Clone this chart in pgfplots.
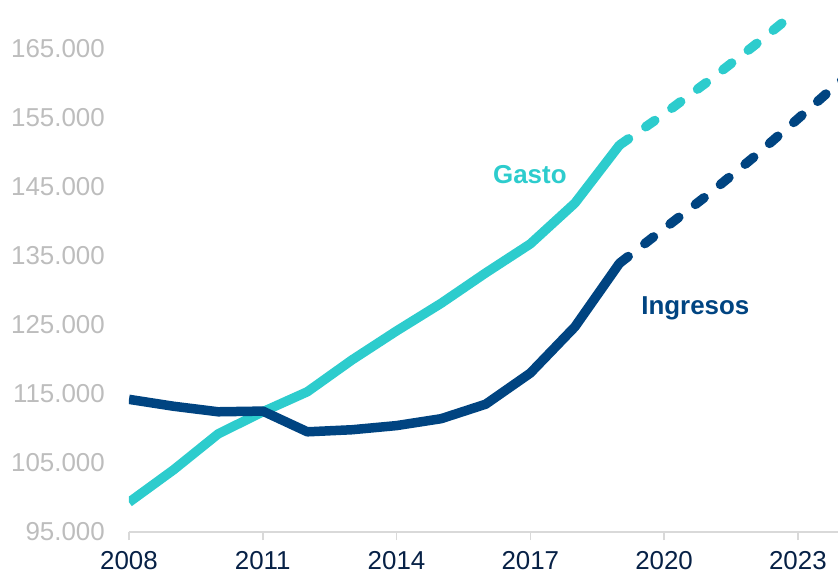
\documentclass[border=0pt]{standalone}
\usepackage{pgfplots}
\pgfplotsset{compat=1.18}
\usepackage{fontspec}
\setmainfont{Liberation Sans}
\definecolor{navy}{HTML}{004481}
\definecolor{aqua}{HTML}{2DCCCD}
\definecolor{dark}{HTML}{072146}
\definecolor{lgray}{HTML}{BDBDBD}
\definecolor{axgray}{HTML}{D9D9D9}
\begin{document}
\fontsize{26}{30}\selectfont
\begin{tikzpicture}
\useasboundingbox (-129bp,-44bp) rectangle (709bp,532bp);
\begin{axis}[
  at={(0,0)}, anchor=origin,
  scale only axis, width=709bp, height=532bp,
  xmin=2008, xmax=2023.9, ymin=95000, ymax=172000,
  axis x line=bottom, axis y line=left,
  x axis line style={-, draw=axgray, line width=1.5bp},
  y axis line style={draw=none},
  xtick={2008,2011,2014,2017,2020,2023},
  ytick={95000,105000,115000,125000,135000,145000,155000,165000},
  scaled x ticks=false, scaled y ticks=false,
  tick align=outside, major tick length=8bp,
  xtick style={draw=axgray, line width=1.5bp},
  ytick style={draw=none},
  /pgf/number format/assume math mode=true,
  xticklabel={\pgfmathprintnumber[1000 sep={}]{\tick}},
  yticklabel={\pgfmathprintnumber[fixed,1000 sep={.}]{\tick}},
  xticklabel style={font=\fontsize{26}{30}\selectfont, text=dark, anchor=north, inner sep=0pt, yshift=-11bp},
  yticklabel style={font=\fontsize{26}{30}\selectfont, text=lgray, anchor=east, inner sep=0pt, xshift=-16bp},
  clip=true,
]
\addplot[aqua, line width=9.5bp, line join=round] coordinates {
(2008,99300) (2009,104000) (2010,109200) (2011,112400) (2012,115300)
(2013,119900) (2014,124100) (2015,128100) (2016,132500) (2017,136700)
(2018,142600) (2019,151000)};
\addplot[aqua, line width=9.5bp, line cap=round, dash pattern=on 11bp off 21bp] coordinates {
(2019,151000) (2020,155500) (2021,160300) (2022,165300) (2023,170500)};
\addplot[navy, line width=9.5bp, line join=round] coordinates {
(2008,114200) (2009,113200) (2010,112400) (2011,112500) (2012,109500)
(2013,109800) (2014,110400) (2015,111400) (2016,113500) (2017,118000)
(2018,124700) (2019,133900)};
\addplot[navy, line width=9.5bp, line cap=round, dash pattern=on 11bp off 21bp] coordinates {
(2019,133900) (2020,138900) (2021,143900) (2022,149200) (2023,154800) (2024,160500)};
\node[anchor=base, text=aqua, font=\fontsize{26}{30}\selectfont\bfseries] at (axis cs:2016.99,145500) {Gasto};
\node[anchor=base, text=navy, font=\fontsize{26}{30}\selectfont\bfseries] at (axis cs:2020.70,126550) {Ingresos};
\end{axis}
\end{tikzpicture}
\end{document}
